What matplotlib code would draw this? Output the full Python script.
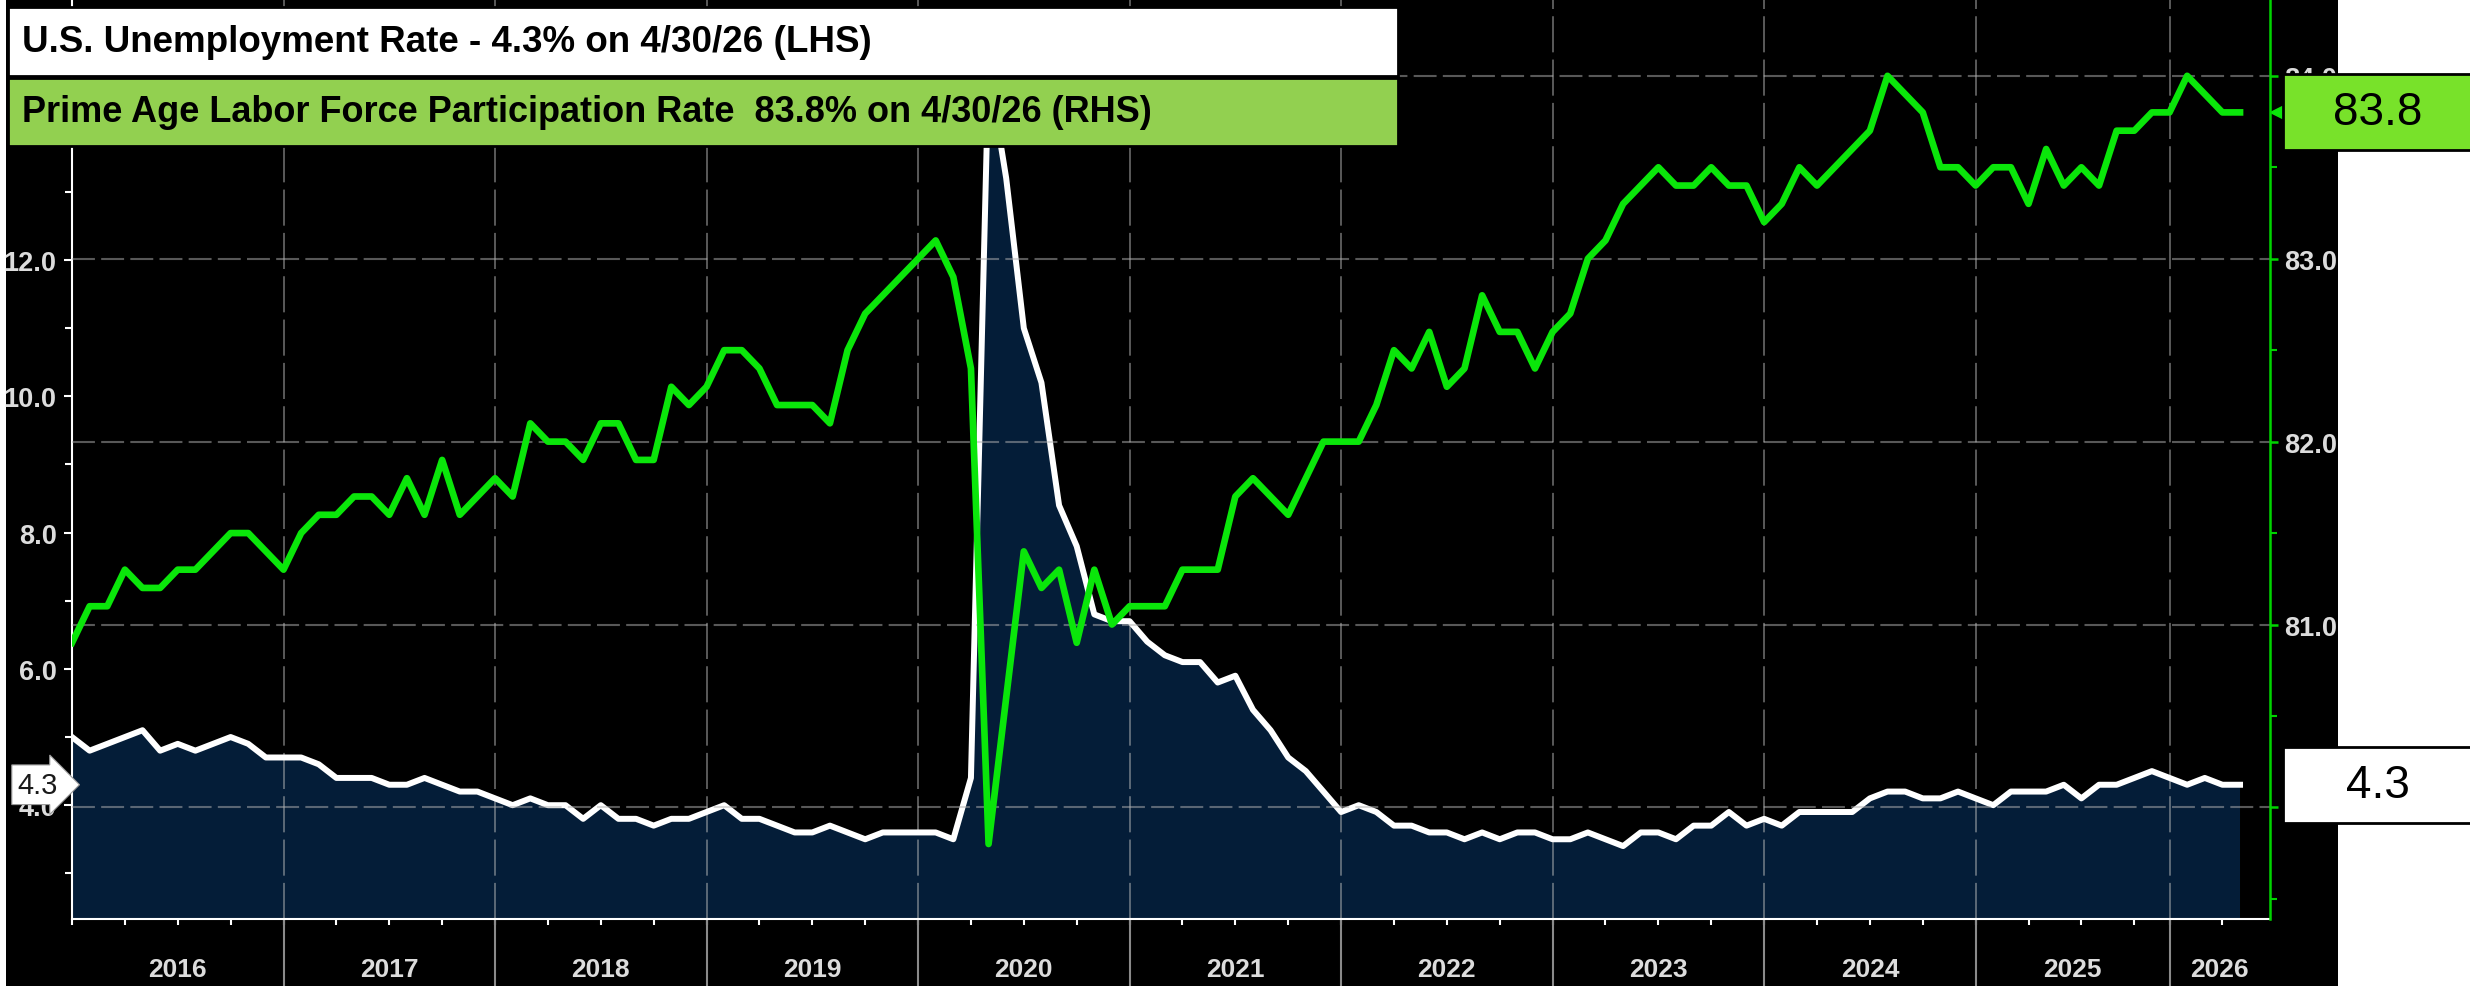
"""Desemprego nos EUA x participação da força de trabalho em idade ativa (estilo Bloomberg)."""

import matplotlib

matplotlib.use("Agg")  # só salva a imagem
import matplotlib.pyplot as plt
import matplotlib.transforms as mtransforms
from matplotlib.patches import Rectangle
from matplotlib.ticker import FormatStrFormatter, MultipleLocator
import numpy as np
import pandas as pd

LARGURA, ALTURA, DPI = 2470, 987, 100

# observações mensais (fim do mês); outubro/2025 não foi divulgado
datas = pd.date_range("2015-12-31", "2026-04-30", freq="ME")
datas = datas[~((datas.year == 2025) & (datas.month == 10))]

ANOS = list(range(2016, 2027))

# taxa de desemprego (%), eixo da esquerda
desemprego = [
    5.0,                                                           # dez/2015
    4.8, 4.9, 5.0, 5.1, 4.8, 4.9, 4.8, 4.9, 5.0, 4.9, 4.7, 4.7,    # 2016
    4.7, 4.6, 4.4, 4.4, 4.4, 4.3, 4.3, 4.4, 4.3, 4.2, 4.2, 4.1,    # 2017
    4.0, 4.1, 4.0, 4.0, 3.8, 4.0, 3.8, 3.8, 3.7, 3.8, 3.8, 3.9,    # 2018
    4.0, 3.8, 3.8, 3.7, 3.6, 3.6, 3.7, 3.6, 3.5, 3.6, 3.6, 3.6,    # 2019
    3.6, 3.5, 4.4, 14.8, 13.2, 11.0, 10.2, 8.4, 7.8, 6.8, 6.7, 6.7,  # 2020
    6.4, 6.2, 6.1, 6.1, 5.8, 5.9, 5.4, 5.1, 4.7, 4.5, 4.2, 3.9,    # 2021
    4.0, 3.9, 3.7, 3.7, 3.6, 3.6, 3.5, 3.6, 3.5, 3.6, 3.6, 3.5,    # 2022
    3.5, 3.6, 3.5, 3.4, 3.6, 3.6, 3.5, 3.7, 3.7, 3.9, 3.7, 3.8,    # 2023
    3.7, 3.9, 3.9, 3.9, 3.9, 4.1, 4.2, 4.2, 4.1, 4.1, 4.2, 4.1,    # 2024
    4.0, 4.2, 4.2, 4.2, 4.3, 4.1, 4.3, 4.3, 4.4, 4.5, 4.4,         # 2025 (sem out)
    4.3, 4.4, 4.3, 4.3,                                            # 2026
]

# participação da força de trabalho 25-54 anos (%), eixo da direita
participacao = [
    80.9,
    81.1, 81.1, 81.3, 81.2, 81.2, 81.3, 81.3, 81.4, 81.5, 81.5, 81.4, 81.3,
    81.5, 81.6, 81.6, 81.7, 81.7, 81.6, 81.8, 81.6, 81.9, 81.6, 81.7, 81.8,
    81.7, 82.1, 82.0, 82.0, 81.9, 82.1, 82.1, 81.9, 81.9, 82.3, 82.2, 82.3,
    82.5, 82.5, 82.4, 82.2, 82.2, 82.2, 82.1, 82.5, 82.7, 82.8, 82.9, 83.0,
    83.1, 82.9, 82.4, 79.8, 80.6, 81.4, 81.2, 81.3, 80.9, 81.3, 81.0, 81.1,
    81.1, 81.1, 81.3, 81.3, 81.3, 81.7, 81.8, 81.7, 81.6, 81.8, 82.0, 82.0,
    82.0, 82.2, 82.5, 82.4, 82.6, 82.3, 82.4, 82.8, 82.6, 82.6, 82.4, 82.6,
    82.7, 83.0, 83.1, 83.3, 83.4, 83.5, 83.4, 83.4, 83.5, 83.4, 83.4, 83.2,
    83.3, 83.5, 83.4, 83.5, 83.6, 83.7, 84.0, 83.9, 83.8, 83.5, 83.5, 83.4,
    83.5, 83.5, 83.3, 83.6, 83.4, 83.5, 83.4, 83.7, 83.7, 83.8, 83.8,
    84.0, 83.9, 83.8, 83.8,
]

TITULO_LHS = "U.S. Unemployment Rate - 4.3% on 4/30/26 (LHS)"
TITULO_RHS = "Prime Age Labor Force Participation Rate  83.8% on 4/30/26 (RHS)"

VERDE = "#0ae60a"
MARINHO = "#041d38"
CINZA_TXT = "#dcdcdc"

plt.rcParams["font.family"] = ["Liberation Sans", "DejaVu Sans"]
plt.rcParams["font.weight"] = "bold"


def fx(px):
    return px / LARGURA


def fy(py):
    return 1 - py / ALTURA


# eixo x por observação (como no Bloomberg)
x = np.arange(len(datas))
x_max = x[-1] + 1.7
fim_ano = [i for i, d in enumerate(datas) if d.month == 12]
trimestres = [i for i, d in enumerate(datas) if d.month in (3, 6, 9, 12)]

fig = plt.figure(figsize=(LARGURA / DPI, ALTURA / DPI), dpi=DPI, facecolor="white")
fig.add_artist(Rectangle((fx(6), 0), fx(2338 - 6), 1, transform=fig.transFigure,
                         facecolor="black", edgecolor="none", zorder=-10))

ax = fig.add_axes([fx(72), fy(920), fx(2270 - 72), 920 / ALTURA])
ax.set_facecolor("black")
ax2 = ax.twinx()

# desemprego: área marinho + linha branca
ax.fill_between(x, 0, desemprego, color=MARINHO, lw=0, zorder=1)
ax.plot(x, desemprego, color="white", lw=4.3, zorder=3)

# participação: linha verde
ax2.plot(x, participacao, color=VERDE, lw=4.8, zorder=3)

ax.set_xlim(0, x_max)
ax.set_ylim(2.33, 15.83)
ax2.set_ylim(79.39, 84.42)

# grades
for i in fim_ano[1:]:
    ax.axvline(i, color="#c0c0c0", alpha=0.5, lw=1.3, dashes=(20, 4), zorder=1.5)
    ax.axvline(i, ymin=-70 / 920, ymax=0, color="#8a8a8a", lw=1.5, clip_on=False)
ax2.grid(axis="y", which="major", color="#b0b0b0", alpha=0.5, lw=1.5, dashes=(11, 3))

# eixos e ticks
for lado in ("top", "right"):
    ax.spines[lado].set_visible(False)
for lado in ("top", "left", "bottom"):
    ax2.spines[lado].set_visible(False)
ax.spines["left"].set_color("white")
ax.spines["bottom"].set_color("white")
ax.spines["left"].set_linewidth(1.5)
ax.spines["bottom"].set_linewidth(1.5)
ax2.spines["right"].set_color("#00d400")
ax2.spines["right"].set_linewidth(1.8)

ax.set_yticks(np.arange(4, 13, 2))
ax.set_yticks(np.arange(3, 16, 2), minor=True)
ax.yaxis.set_major_formatter(FormatStrFormatter("%.1f"))
ax2.yaxis.set_major_locator(MultipleLocator(1))
ax2.yaxis.set_minor_locator(MultipleLocator(0.5))
ax2.yaxis.set_major_formatter(FormatStrFormatter("%.1f"))

ax.tick_params(axis="y", which="major", colors="white", labelcolor=CINZA_TXT,
               length=6, width=1.5, labelsize=19.5, pad=5)
ax.tick_params(axis="y", which="minor", colors="white", length=5, width=1.5)
ax2.tick_params(axis="y", which="major", colors="#00d400", labelcolor=CINZA_TXT,
                length=6, width=1.8, labelsize=19.5, pad=4)
ax2.tick_params(axis="y", which="minor", colors="#00d400", length=5, width=1.5)

ax.set_xticks(trimestres)
ax.set_xticklabels([])
ax.tick_params(axis="x", colors="white", length=4, width=1.5)

# rótulos dos anos no meio de cada intervalo
limites = fim_ano + [x_max]
trans_x = mtransforms.blended_transform_factory(ax.transData, ax.transAxes)
for ano, a, b in zip(ANOS, limites[:-1], limites[1:]):
    ax.text((a + b) / 2, -50 / 920, str(ano), transform=trans_x, ha="center",
            va="center", fontsize=19, color=CINZA_TXT)

# marcadores do último valor
ultimo_des = desemprego[-1]
ultimo_part = participacao[-1]

trans_y = mtransforms.blended_transform_factory(ax.transAxes, ax.transData)
ax.text(-14 / 2198, ultimo_des, f"{ultimo_des:.1f}", transform=trans_y, ha="right",
        va="center", fontsize=21, fontweight="normal", color="#1a1a1a", zorder=6,
        bbox=dict(boxstyle="rarrow,pad=0.2", fc="white", ec="#999999", lw=0.8),
        clip_on=False)

trans_y2 = mtransforms.blended_transform_factory(ax2.transAxes, ax2.transData)
ax2.plot([1 + 6 / 2198], [ultimo_part], marker="<", ms=9, color=VERDE,
         transform=trans_y2, clip_on=False)


def y_figura(eixo, valor):
    pix = eixo.transData.transform((0, valor))
    return fig.transFigure.inverted().transform(pix)[1]


for eixo, valor, cor in ((ax2, ultimo_part, "#78e22a"), (ax, ultimo_des, "white")):
    yc = y_figura(eixo, valor)
    h = 76 / ALTURA
    fig.add_artist(Rectangle((fx(2283), yc - h / 2), 0.1, h, transform=fig.transFigure,
                             facecolor=cor, edgecolor="black", lw=2, zorder=10))
    fig.text(fx(2378), yc, f"{valor:.1f}", ha="center", va="center", fontsize=33,
             fontweight="normal", color="black", zorder=11)

# caixas de legenda no topo
fig.add_artist(Rectangle((fx(8), fy(77)), fx(1398 - 8), 69 / ALTURA, transform=fig.transFigure,
                         facecolor="white", edgecolor="black", lw=2, zorder=10))
fig.add_artist(Rectangle((fx(8), fy(147)), fx(1398 - 8), 68 / ALTURA, transform=fig.transFigure,
                         facecolor="#92d050", edgecolor="black", lw=2, zorder=10))
fig.text(fx(22), fy(43), TITULO_LHS, ha="left", va="center", fontsize=26.5,
         fontweight="bold", color="black", zorder=11)
fig.text(fx(22), fy(113), TITULO_RHS, ha="left", va="center", fontsize=26,
         fontweight="bold", color="black", zorder=11)

fig.savefig("out.png", dpi=DPI, facecolor=fig.get_facecolor())
plt.close(fig)
